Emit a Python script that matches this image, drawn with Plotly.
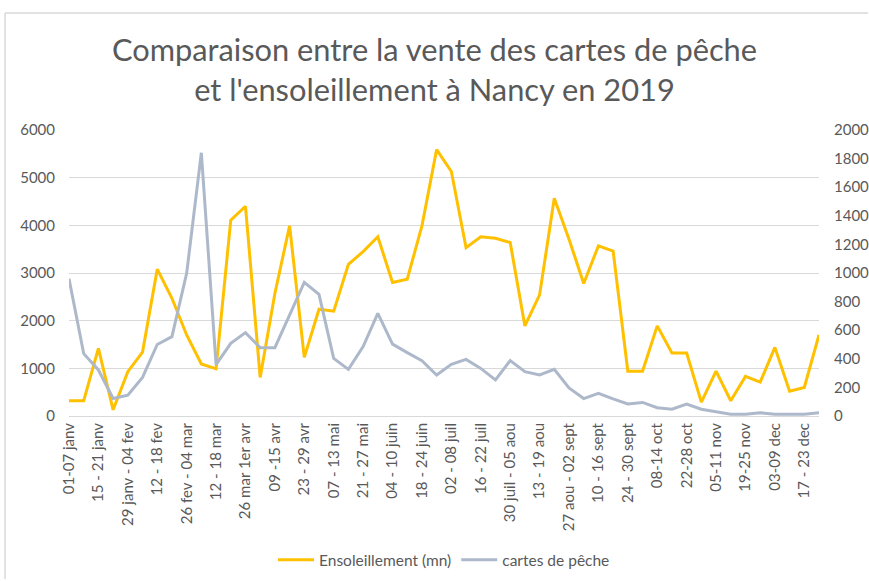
import plotly.graph_objects as go

weeks = [
    "01-07 janv", "08-14 janv", "15 - 21 janv", "22-28 janv", "29 janv - 04 fev", "05-11 fev",
    "12 - 18 fev", "19-25 fev", "26 fev - 04 mar", "05-11 mar", "12 - 18 mar", "19-25 mar",
    "26 mar 1er avr", "02-08 avr", "09 -15 avr", "16-22 avr", "23 - 29 avr", "30 avr - 06 mai",
    "07 - 13 mai", "14-20 mai", "21 - 27 mai", "28 mai - 03 juin", "04 - 10 juin", "11-17 juin",
    "18 - 24 juin", "25 juin - 01 juil", "02 - 08 juil", "09-15 juil", "16 - 22 juil", "23-29 juil",
    "30 juil - 05 aou", "06-12 aou", "13 - 19 aou", "20-26 aou", "27 aou - 02 sept", "03-09 sept",
    "10 - 16 sept", "17-23 sept", "24 - 30 sept", "01-07 oct", "08-14 oct", "15-21 oct",
    "22-28 oct", "29 oct - 04 nov", "05-11 nov", "12-18 nov", "19-25 nov", "26 nov - 02 dec",
    "03-09 dec", "10-16 dec", "17 - 23 dec", "24-30 dec",
]

ensoleillement = [320, 320, 1420, 130, 930, 1340, 3080, 2470, 1700, 1090, 990, 4110, 4400,
                  810, 2570, 3990, 1230, 2240, 2200, 3180, 3450, 3760, 2800, 2870, 3990, 5590,
                  5130, 3530, 3760, 3730, 3640, 1890, 2540, 4570, 3710, 2780, 3570, 3460, 940,
                  940, 1890, 1320, 1320, 290, 940, 320, 830, 710, 1440, 520, 600, 1700]

cartes = [960, 436, 322, 122, 145, 270, 500, 555, 998, 1841, 360, 508, 583, 478, 478, 706,
          935, 851, 403, 326, 485, 718, 503, 443, 387, 287, 361, 396, 333, 252, 387, 310,
          287, 326, 196, 122, 159, 120, 84, 95, 58, 47, 84, 47, 30, 12, 12, 23, 12, 12, 12, 23]

shown_ticks = weeks[::2]

left_ticks = [0, 1000, 2000, 3000, 4000, 5000, 6000]
right_ticks = [0, 200, 400, 600, 800, 1000, 1200, 1400, 1600, 1800, 2000]

FONT = "Lato"
GREY_TXT = "#595959"
BORDER = "#D9D9D9"

fig = go.Figure()
fig.add_trace(go.Scatter(x=weeks, y=ensoleillement, mode="lines", name="Ensoleillement (mn)",
                         line=dict(color="#FFC000", width=3)))
fig.add_trace(go.Scatter(x=weeks, y=cartes, mode="lines", name="cartes de pêche",
                         line=dict(color="#ADB9CA", width=3), yaxis="y2"))

fig.update_layout(
    width=869, height=581,
    margin=dict(l=69, r=50, t=130, b=165),
    paper_bgcolor="white", plot_bgcolor="white",
    font=dict(family=FONT, color=GREY_TXT, size=15),
    title=dict(text="Comparaison entre la vente des cartes de pêche<br>et l'ensoleillement à Nancy en 2019",
               x=0.5, xanchor="center", y=0.8956, yanchor="middle",
               font=dict(family=FONT, size=30.8, color=GREY_TXT)),
    xaxis=dict(type="category", tickmode="array", tickvals=shown_ticks, ticktext=shown_ticks,
               tickangle=-90, showgrid=False, showline=True, linecolor=BORDER,
               ticks="", automargin=False, tickfont=dict(size=15, color=GREY_TXT)),
    yaxis=dict(range=[0, 6000], tickvals=left_ticks, showgrid=True, gridcolor=BORDER,
               zeroline=False, ticks="", automargin=False, ticklabelstandoff=13,
               tickfont=dict(size=15, color=GREY_TXT)),
    yaxis2=dict(range=[0, 2000], tickvals=right_ticks, overlaying="y", side="right",
                showgrid=False, zeroline=False, ticks="", automargin=False, ticklabelstandoff=14,
                tickfont=dict(size=15, color=GREY_TXT)),
    legend=dict(orientation="h", x=0.5, xanchor="center", yref="container", y=0.036,
                yanchor="middle", itemwidth=36, font=dict(size=15.5, color=GREY_TXT)),
    shapes=[
        dict(type="line", xref="paper", yref="paper", x0=-0.0853, x1=-0.0853, y0=-0.57, y1=1.409,
             line=dict(color=BORDER, width=1.5)),
        dict(type="line", xref="paper", yref="paper", x0=-0.0853, x1=1.0653, y0=1.409, y1=1.409,
             line=dict(color=BORDER, width=1.5)),
    ],
)

fig.write_html(
    "out.html", config={"displayModeBar": False},
    post_script=("document.documentElement.style.overflow='hidden';"
                 "document.body.style.margin='0';document.body.style.overflow='hidden';"),
)
